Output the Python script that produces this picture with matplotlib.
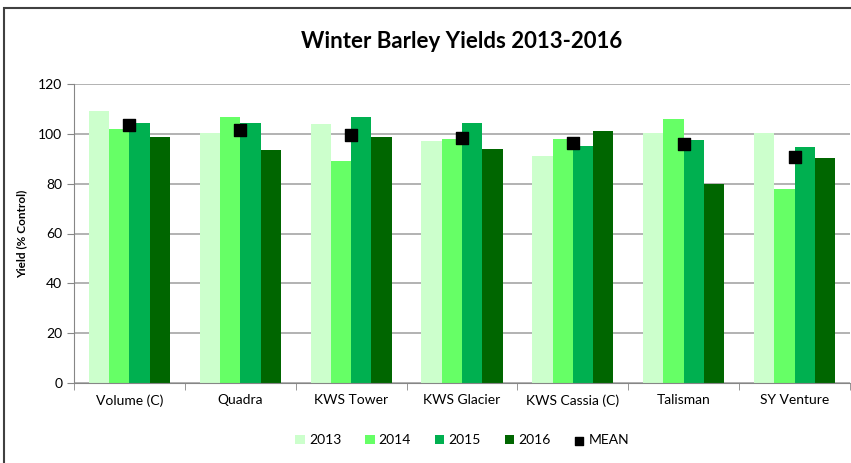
import numpy as np
import matplotlib
matplotlib.use('Agg')
import matplotlib.pyplot as plt
from matplotlib.patches import Rectangle

plt.rcParams['font.family'] = ['Lato', 'DejaVu Sans']

varieties = ['Volume (C)', 'Quadra', 'KWS Tower', 'KWS Glacier', 'KWS Cassia (C)', 'Talisman', 'SY Venture']
years = ['2013', '2014', '2015', '2016']
y2013 = [109.2, 100.2, 104.1, 97.2, 91.1, 100.2, 100.2]
y2014 = [101.8, 106.9, 89.0, 97.8, 97.8, 105.8, 77.9]
y2015 = [104.5, 104.5, 106.8, 104.4, 95.1, 97.4, 94.7]
y2016 = [98.8, 93.7, 98.8, 93.8, 101.0, 79.8, 90.5]
mean = [103.4, 101.4, 99.5, 98.3, 96.2, 95.8, 90.6]
colors = ['#CCFFCC', '#66FF66', '#00B050', '#006600']

fig = plt.figure(figsize=(8.51, 4.63), dpi=100)
ax = fig.add_axes([74/851, 1 - 383/463, (850 - 74)/851, (383 - 84)/463])

# chart border
fig.patches.append(Rectangle((4/851, -0.1), 1.1, (463 - 8)/463 + 0.1, transform=fig.transFigure,
                             fill=False, edgecolor='#404040', linewidth=1.5))

x = np.arange(len(varieties))
w = 0.183
series = [y2013, y2014, y2015, y2016]
for i, vals in enumerate(series):
    ax.bar(x + (i - 1.5) * w, vals, width=w, color=colors[i], label=years[i], zorder=2)
ax.scatter(x, mean, marker='s', s=70, color='black', label='MEAN', zorder=3)

ax.set_xlim(-0.5, len(varieties) - 0.5)
ax.set_ylim(0, 120)
ax.set_yticks(range(0, 121, 20))
ax.yaxis.grid(True, color='#A6A6A6', linewidth=1.2, zorder=0)
ax.set_axisbelow(True)
ax.set_xticks(x)
ax.set_xticklabels(varieties, fontsize=10)
ax.tick_params(axis='x', length=0, pad=8)
ax.set_xticks(np.arange(-0.5, len(varieties)), minor=True)
ax.tick_params(axis='x', which='minor', length=5, color='#868686')
ax.tick_params(axis='y', labelsize=10, length=5, color='#868686')
for s in ['top', 'right']:
    ax.spines[s].set_visible(False)
for s in ['left', 'bottom']:
    ax.spines[s].set_color('#868686')
ax.set_ylabel('Yield (% Control)', fontsize=8.5, fontweight='bold', labelpad=8)

ax.set_title('Winter Barley Yields 2013-2016', fontsize=16, fontweight='bold', pad=26)

handles, labels = ax.get_legend_handles_labels()
order = [labels.index(l) for l in years + ['MEAN']]
leg = ax.legend([handles[i] for i in order], [labels[i] for i in order],
                loc='upper center', bbox_to_anchor=(0.5, -0.13), ncol=5, frameon=False,
                fontsize=10, handlelength=0.7, handleheight=0.7, columnspacing=1.7,
                handletextpad=0.3, markerscale=0.75, scatterpoints=1)

fig.savefig('out.png', dpi=100)
